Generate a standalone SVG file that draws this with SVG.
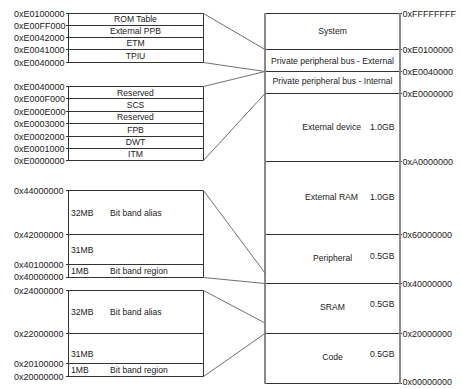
<svg xmlns="http://www.w3.org/2000/svg" width="461" height="389" viewBox="0 0 461 389">
  <style>
    .t { font-family: "Liberation Sans", Arial, sans-serif; font-size: 8.6px; fill: #222; }
    .a { font-family: "Liberation Sans", Arial, sans-serif; font-size: 9px; fill: #222; }
    .c { text-anchor: middle; }
    .e { text-anchor: end; }
    .ln { stroke: #333; stroke-width: 1; fill: none; }
    .side { stroke: #8a8a8a; stroke-width: 2; fill: none; }
    .con { stroke: #707070; stroke-width: 1; fill: none; }
  </style>
  <rect width="461" height="389" fill="#fff"/>

  <!-- Private peripheral bus - External detail -->
  <g id="ppb-external">
    <path class="ln" d="M66,13.5H203.5M66,25.5H203.5M66,37.5H203.5M66,49.5H203.5M66,62.5H203.5M68.5,13.5V62.5M203.5,13.5V62.5"/>
    <text class="t c" x="135.5" y="22">ROM Table</text>
    <text class="t c" x="135.5" y="34">External PPB</text>
    <text class="t c" x="135.5" y="46">ETM</text>
    <text class="t c" x="135.5" y="58.5">TPIU</text>
    <text class="a" x="14" y="16.5">0xE0100000</text>
    <text class="a" x="14" y="28.5">0xE00FF000</text>
    <text class="a" x="14" y="40.5">0xE0042000</text>
    <text class="a" x="14" y="52.5">0xE0041000</text>
    <text class="a" x="14" y="65.5">0xE0040000</text>
  </g>

  <!-- Private peripheral bus - Internal detail -->
  <g id="ppb-internal">
    <path class="ln" d="M66,86.5H203.5M66,98.5H203.5M66,111.5H203.5M66,123.5H203.5M66,136.5H203.5M66,148.5H203.5M66,160.5H203.5M68.5,86.5V160.5M203.5,86.5V160.5"/>
    <text class="t c" x="135.5" y="95.5">Reserved</text>
    <text class="t c" x="135.5" y="107.5">SCS</text>
    <text class="t c" x="135.5" y="120">Reserved</text>
    <text class="t c" x="135.5" y="132.5">FPB</text>
    <text class="t c" x="135.5" y="145">DWT</text>
    <text class="t c" x="135.5" y="157">ITM</text>
    <text class="a" x="14" y="89.5">0xE0040000</text>
    <text class="a" x="14" y="101.5">0xE000F000</text>
    <text class="a" x="14" y="114.5">0xE000E000</text>
    <text class="a" x="14" y="126.5">0xE0003000</text>
    <text class="a" x="14" y="139.5">0xE0002000</text>
    <text class="a" x="14" y="151.5">0xE0001000</text>
    <text class="a" x="14" y="163.5">0xE0000000</text>
  </g>

  <!-- Peripheral bit band -->
  <g id="peripheral-bitband">
    <path class="ln" d="M66,190.5H203.5M66,234.5H203.5M66,264.5H203.5M66,277.5H203.5M68.5,190.5V277.5M203.5,190.5V277.5"/>
    <text class="t" x="71" y="216">32MB</text>
    <text class="t" x="110" y="216">Bit band alias</text>
    <text class="t" x="71" y="252.5">31MB</text>
    <text class="t" x="71" y="274">1MB</text>
    <text class="t" x="110" y="274">Bit band region</text>
    <text class="a" x="14" y="194">0x44000000</text>
    <text class="a" x="14" y="237.5">0x42000000</text>
    <text class="a" x="14" y="267.5">0x40100000</text>
    <text class="a" x="14" y="280">0x40000000</text>
  </g>

  <!-- SRAM bit band -->
  <g id="sram-bitband">
    <path class="ln" d="M66,290.5H203.5M66,333.5H203.5M66,363.5H203.5M66,376.5H203.5M68.5,290.5V376.5M203.5,290.5V376.5"/>
    <text class="t" x="71" y="315">32MB</text>
    <text class="t" x="110" y="315">Bit band alias</text>
    <text class="t" x="71" y="357">31MB</text>
    <text class="t" x="71" y="373">1MB</text>
    <text class="t" x="110" y="373">Bit band region</text>
    <text class="a" x="14" y="293.5">0x24000000</text>
    <text class="a" x="14" y="336.5">0x22000000</text>
    <text class="a" x="14" y="366.5">0x20100000</text>
    <text class="a" x="14" y="380">0x20000000</text>
  </g>

  <!-- System memory map -->
  <g id="memory-map">
    <path class="ln" d="M265,13.5H402M265,49.5H402M265,71.5H402M265,93.5H402M265,161.5H402M265,234.5H402M265,283.5H402M265,333.5H402M265,383.5H402"/>
    <path class="side" d="M265,13V384M400,13V384"/>
    <text class="t c" x="332.5" y="34">System</text>
    <text class="t c" x="332.5" y="63.5">Private peripheral bus - External</text>
    <text class="t c" x="332.5" y="84">Private peripheral bus - Internal</text>
    <text class="t e" x="361" y="130">External device</text>
    <text class="t" x="370" y="130">1.0GB</text>
    <text class="t e" x="358" y="200">External RAM</text>
    <text class="t" x="370" y="200">1.0GB</text>
    <text class="t c" x="332.5" y="261">Peripheral</text>
    <text class="t" x="370" y="259">0.5GB</text>
    <text class="t c" x="332.5" y="310">SRAM</text>
    <text class="t" x="370" y="306.5">0.5GB</text>
    <text class="t c" x="332.5" y="360">Code</text>
    <text class="t" x="370" y="357">0.5GB</text>
    <text class="a" x="402.5" y="16.5">0xFFFFFFFF</text>
    <text class="a" x="402.5" y="52.5">0xE0100000</text>
    <text class="a" x="402.5" y="74.5">0xE0040000</text>
    <text class="a" x="402.5" y="96.5">0xE0000000</text>
    <text class="a" x="402.5" y="164.5">0xA0000000</text>
    <text class="a" x="402.5" y="237.5">0x60000000</text>
    <text class="a" x="402.5" y="286.5">0x40000000</text>
    <text class="a" x="402.5" y="336.5">0x20000000</text>
    <text class="a" x="402.5" y="385">0x00000000</text>
  </g>

  <!-- Expansion connectors -->
  <g id="connectors">
    <path class="con" d="M203.5,13.5L265,49.5"/>
    <path class="con" d="M203.5,62.5L265,71.5"/>
    <path class="con" d="M203.5,86.5L265,71.5"/>
    <path class="con" d="M203.5,160.5L265,93.5"/>
    <path class="con" d="M203.5,190.5L265,273"/>
    <path class="con" d="M203.5,277.5L265,283.5"/>
    <path class="con" d="M203.5,290.5L265,323"/>
    <path class="con" d="M203.5,376.5L265,333.5"/>
  </g>
</svg>
